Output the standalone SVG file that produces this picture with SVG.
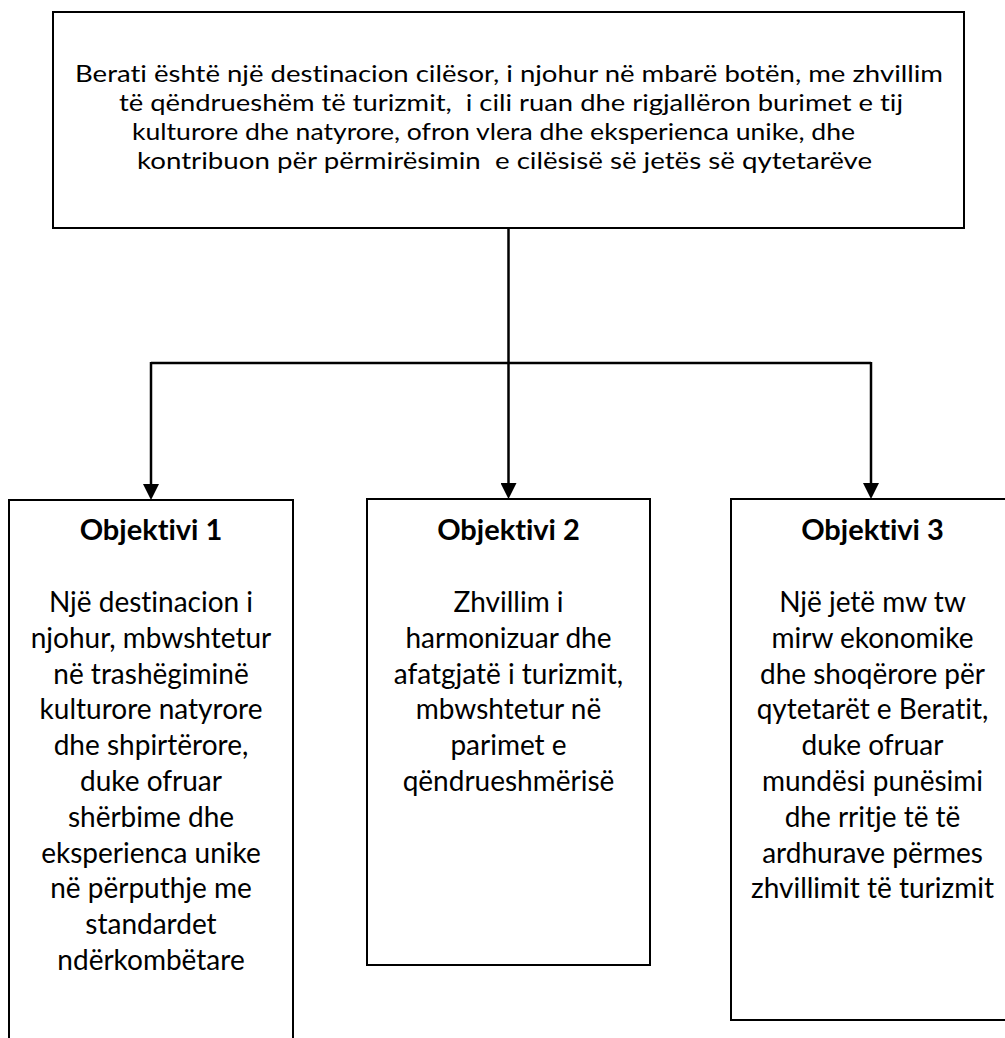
<svg xmlns="http://www.w3.org/2000/svg" width="1005" height="1038" viewBox="0 0 1005 1038">
  <style>
    .box { fill: #ffffff; stroke: #000000; stroke-width: 2; }
    .conn { fill: none; stroke: #000000; stroke-width: 2.5; }
    text { font-family: Lato, "Open Sans", "Liberation Sans", sans-serif; fill: #000000; font-variant-ligatures: none; font-feature-settings: "liga" 0, "clig" 0; }
    .top { font-size: 22.5px; text-anchor: start; }
    .title { font-size: 29px; font-weight: bold; text-anchor: middle; }
    .body { font-size: 28px; text-anchor: middle; }
  </style>
  <defs>
    <marker id="arrow" markerUnits="userSpaceOnUse" markerWidth="16" markerHeight="16" viewBox="0 0 16 16" refX="5" refY="8" orient="auto">
      <path d="M0,0 L16,8 L0,16 Z" fill="#000000"/>
    </marker>
  </defs>
  <rect x="0" y="0" width="1005" height="1038" fill="#ffffff"/>

  <g id="connectors">
    <path class="conn" d="M508.5,228 L508.5,488" marker-end="url(#arrow)"/>
    <path class="conn" d="M151,363 L871,363"/>
    <path class="conn" d="M151,362 L151,489" marker-end="url(#arrow)"/>
    <path class="conn" d="M871,362 L871,488" marker-end="url(#arrow)"/>
  </g>

  <g id="vision">
    <rect class="box" x="53" y="12" width="911" height="216"/>
    <text class="top" x="75" y="82" textLength="868" lengthAdjust="spacingAndGlyphs">Berati është një destinacion cilësor, i njohur në mbarë botën, me zhvillim</text>
    <text class="top" x="119" y="111" textLength="784" lengthAdjust="spacingAndGlyphs" xml:space="preserve">të qëndrueshëm të turizmit,  i cili ruan dhe rigjallëron burimet e tij</text>
    <text class="top" x="132" y="140" textLength="723" lengthAdjust="spacingAndGlyphs">kulturore dhe natyrore, ofron vlera dhe eksperienca unike, dhe</text>
    <text class="top" x="137" y="169" textLength="735" lengthAdjust="spacingAndGlyphs" xml:space="preserve">kontribuon për përmirësimin  e cilësisë së jetës së qytetarëve</text>
  </g>

  <g id="objektivi1">
    <rect class="box" x="9" y="500" width="284" height="560"/>
    <text class="title" x="151" y="540">Objektivi 1</text>
    <text class="body" x="151" y="612">Një destinacion i</text>
    <text class="body" x="151" y="647.8">njohur, mbwshtetur</text>
    <text class="body" x="151" y="683.6">në trashëgiminë</text>
    <text class="body" x="151" y="719.4">kulturore natyrore</text>
    <text class="body" x="151" y="755.2">dhe shpirtërore,</text>
    <text class="body" x="151" y="791">duke ofruar</text>
    <text class="body" x="151" y="826.8">shërbime dhe</text>
    <text class="body" x="151" y="862.6">eksperienca unike</text>
    <text class="body" x="151" y="898.4">në përputhje me</text>
    <text class="body" x="151" y="934.2">standardet</text>
    <text class="body" x="151" y="970">ndërkombëtare</text>
  </g>

  <g id="objektivi2">
    <rect class="box" x="367" y="499" width="283" height="466"/>
    <text class="title" x="508.5" y="540">Objektivi 2</text>
    <text class="body" x="508.5" y="612">Zhvillim i</text>
    <text class="body" x="508.5" y="647.8">harmonizuar dhe</text>
    <text class="body" x="508.5" y="683.6">afatgjatë i turizmit,</text>
    <text class="body" x="508.5" y="719.4">mbwshtetur në</text>
    <text class="body" x="508.5" y="755.2">parimet e</text>
    <text class="body" x="508.5" y="791">qëndrueshmërisë</text>
  </g>

  <g id="objektivi3">
    <rect class="box" x="731" y="499" width="283" height="521"/>
    <text class="title" x="872.5" y="540">Objektivi 3</text>
    <text class="body" x="872.5" y="612">Një jetë mw tw</text>
    <text class="body" x="872.5" y="647.8">mirw ekonomike</text>
    <text class="body" x="872.5" y="683.6">dhe shoqërore për</text>
    <text class="body" x="872.5" y="719.4">qytetarët e Beratit,</text>
    <text class="body" x="872.5" y="755.2">duke ofruar</text>
    <text class="body" x="872.5" y="791">mundësi punësimi</text>
    <text class="body" x="872.5" y="826.8">dhe rritje të të</text>
    <text class="body" x="872.5" y="862.6">ardhurave përmes</text>
    <text class="body" x="872.5" y="898.4">zhvillimit të turizmit</text>
  </g>
</svg>
